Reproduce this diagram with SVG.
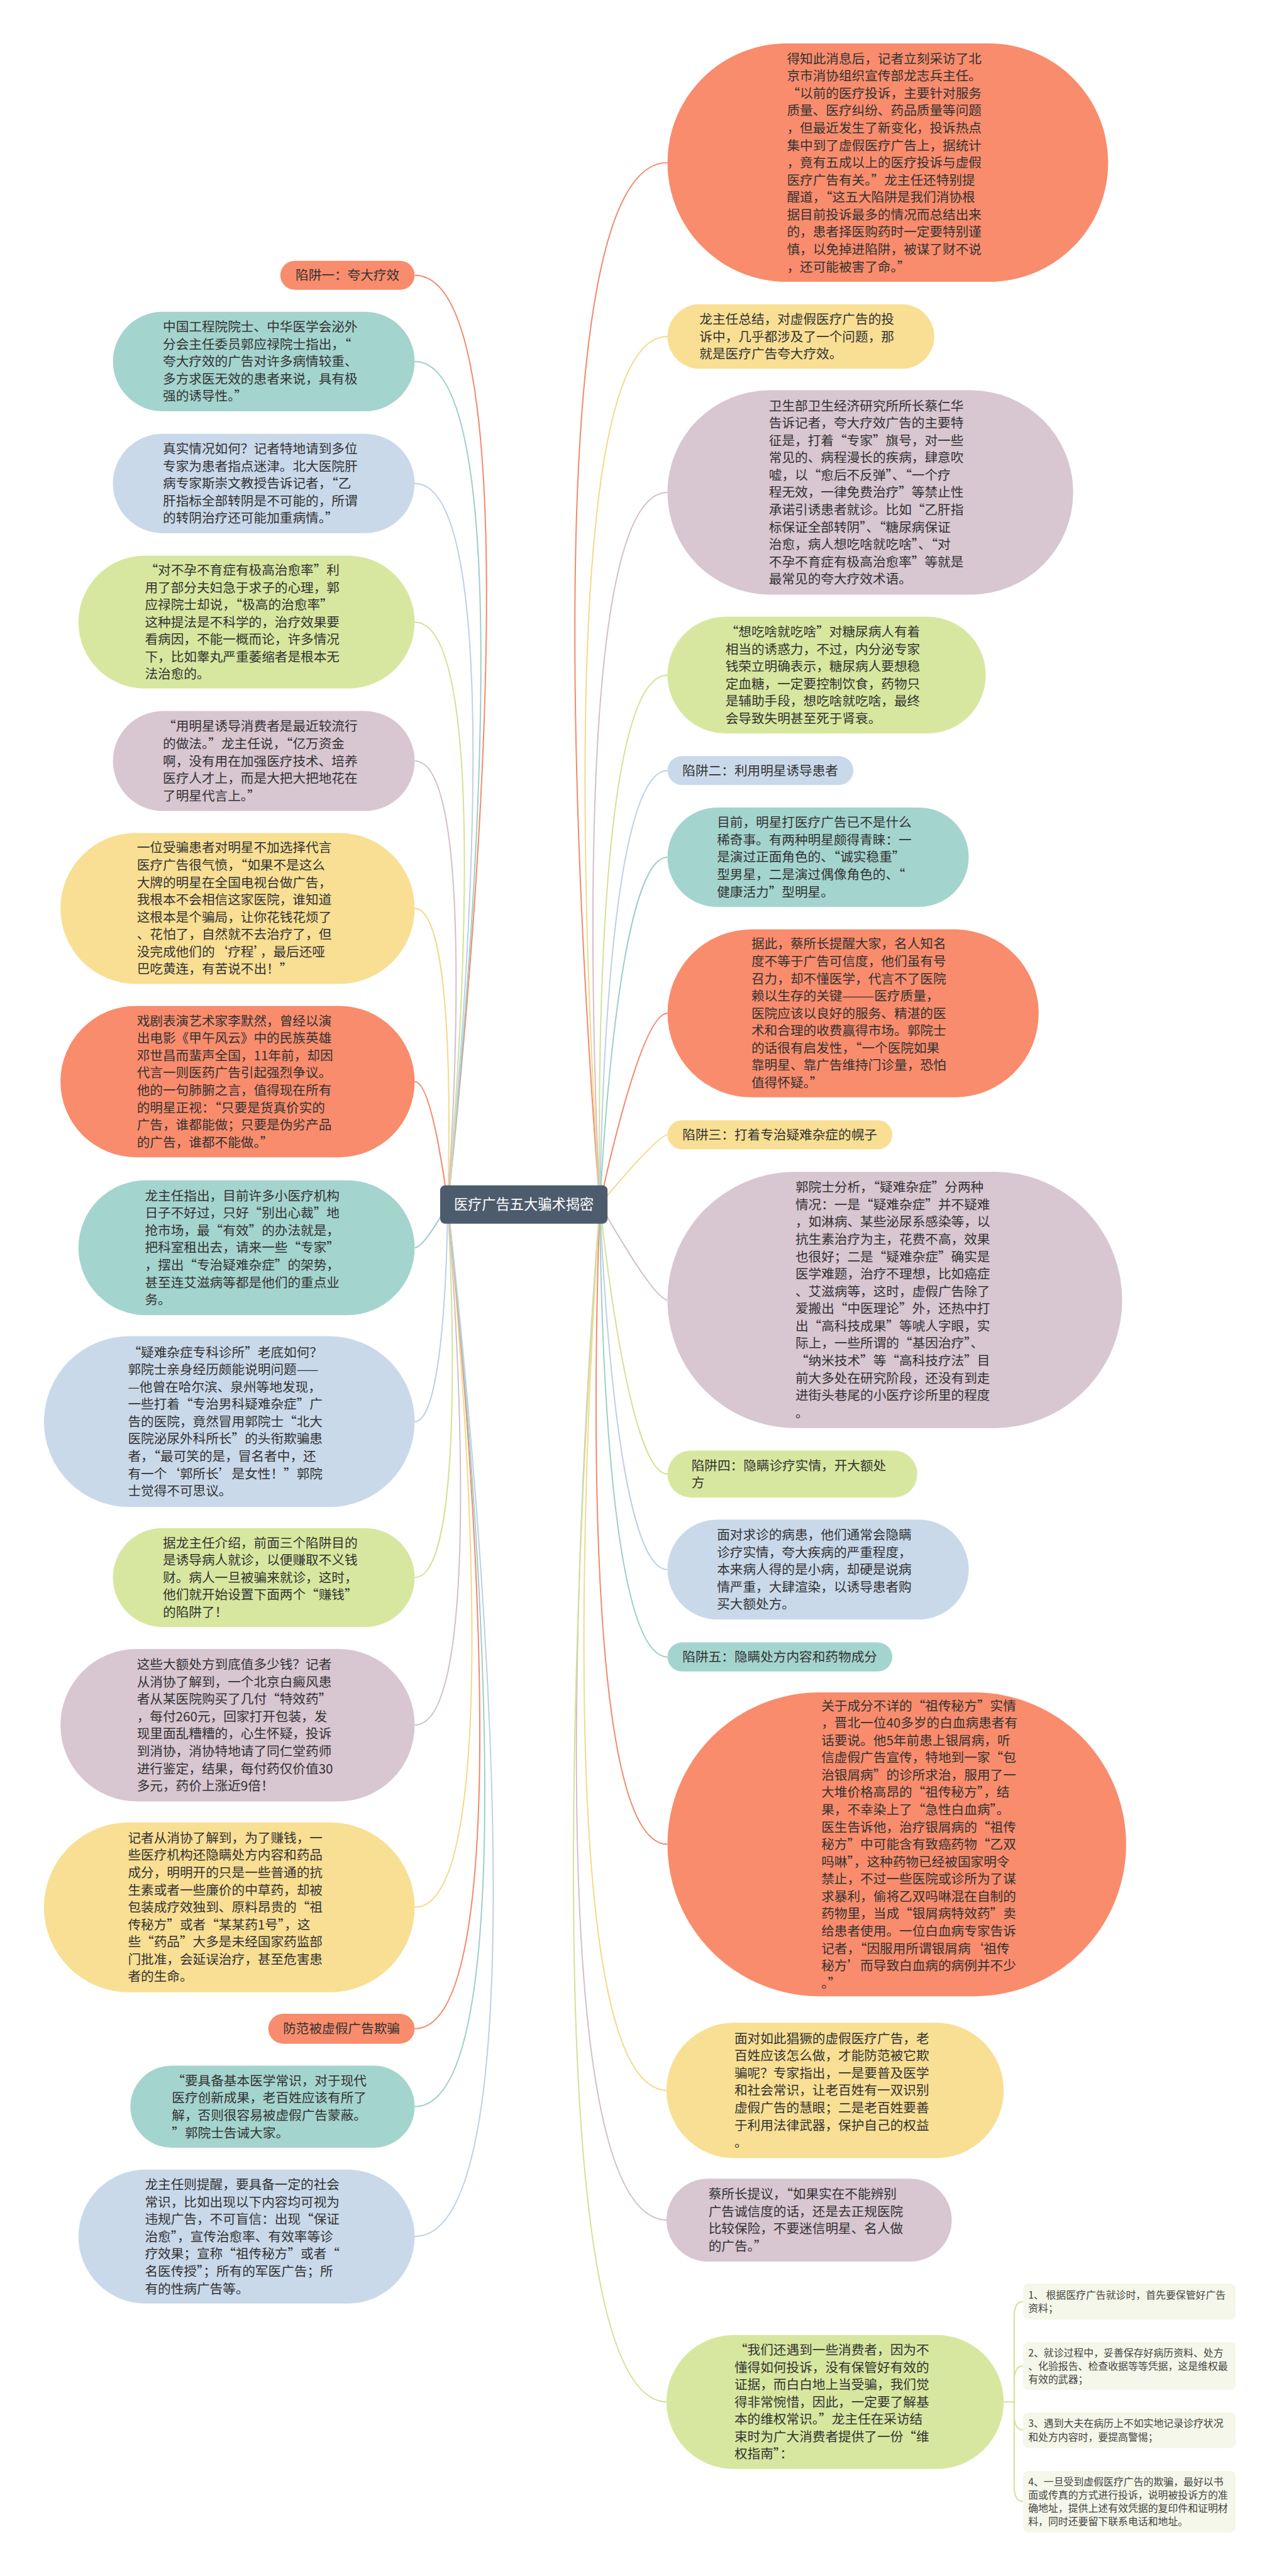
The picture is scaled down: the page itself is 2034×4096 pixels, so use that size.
<svg xmlns="http://www.w3.org/2000/svg" width="2034" height="4096" viewBox="0 0 2034 4096">
<style>
.t{font-family:"Noto Sans CJK SC","Noto Sans",sans-serif;font-size:26px;fill:#333333}
.s{font-family:"Noto Sans CJK SC","Noto Sans",sans-serif;font-size:20px;fill:#444444}
.c{font-family:"Noto Sans CJK SC","Noto Sans",sans-serif;font-size:28px;fill:#ffffff}
.or{fill:#f98c6c}.te{fill:#a4d4ce}.bl{fill:#c9d9ea}.gr{fill:#d8e79f}.mv{fill:#d8c6d1}.ye{fill:#f8df93}.no{fill:#f4f7e9}
.k{fill:none;stroke-width:2.5}
.kor{stroke:#f4886a}.kte{stroke:#9dcfc9}.kbl{stroke:#bcd0e6}.kgr{stroke:#d2e296}.kmv{stroke:#d2bfcb}.kye{stroke:#f3d98a}
</style>
<rect width="2034" height="4096" fill="#ffffff"/>
<g transform="scale(0.794531)">
<g id="connectors">
<path class="k kor" d="M830 551C1109 551 896 2410 896 2410"/>
<path class="k kte" d="M830 723.5C1083 723.5 896 2410 896 2410"/>
<path class="k kbl" d="M830 967.5C1046 967.5 896 2410 896 2410"/>
<path class="k kgr" d="M830 1245C1005 1245 896 2410 896 2410"/>
<path class="k kmv" d="M830 1523C963 1523 896 2410 896 2410"/>
<path class="k kye" d="M830 1818C919 1818 896 2410 896 2410"/>
<path class="k kor" d="M830 2164.5C867 2164.5 896 2410 896 2410"/>
<path class="k kte" d="M830 2497C850 2497 896 2410 896 2410"/>
<path class="k kbl" d="M830 2845C895 2845 896 2410 896 2410"/>
<path class="k kgr" d="M830 3157C942 3157 896 2410 896 2410"/>
<path class="k kmv" d="M830 3452.5C986 3452.5 896 2410 896 2410"/>
<path class="k kye" d="M830 3817C1041 3817 896 2410 896 2410"/>
<path class="k kor" d="M830 4060C1078 4060 896 2410 896 2410"/>
<path class="k kte" d="M830 4216C1101 4216 896 2410 896 2410"/>
<path class="k kbl" d="M830 4476C1140 4476 896 2410 896 2410"/>
<path class="k kor" d="M1336 325.5C1023 325.5 1201 2410 1201 2410"/>
<path class="k kye" d="M1336 673.5C1076 673.5 1201 2410 1201 2410"/>
<path class="k kmv" d="M1336 985.5C1122 985.5 1201 2410 1201 2410"/>
<path class="k kgr" d="M1336 1351C1177 1351 1201 2410 1201 2410"/>
<path class="k kbl" d="M1336 1542C1206 1542 1201 2410 1201 2410"/>
<path class="k kte" d="M1336 1715.5C1232 1715.5 1201 2410 1201 2410"/>
<path class="k kor" d="M1336 2028C1279 2028 1201 2410 1201 2410"/>
<path class="k kye" d="M1336 2271C1315 2271 1201 2410 1201 2410"/>
<path class="k kmv" d="M1336 2601.5C1307 2601.5 1201 2410 1201 2410"/>
<path class="k kgr" d="M1336 2950C1255 2950 1201 2410 1201 2410"/>
<path class="k kbl" d="M1336 3141C1226 3141 1201 2410 1201 2410"/>
<path class="k kte" d="M1336 3316C1200 3316 1201 2410 1201 2410"/>
<path class="k kor" d="M1336 3691C1144 3691 1201 2410 1201 2410"/>
<path class="k kye" d="M1336 4183.5C1070 4183.5 1201 2410 1201 2410"/>
<path class="k kmv" d="M1336 4443C1031 4443 1201 2410 1201 2410"/>
<path class="k kgr" d="M1336 4807C1016 4807 1201 2410 1201 2410"/>
<path class="k kgr" d="M2009 4807H2030"/>
<path class="k kgr" d="M2030 4807V4636Q2030 4606 2048 4606"/>
<path class="k kgr" d="M2030 4807V4765Q2030 4735 2048 4735"/>
<path class="k kgr" d="M2030 4807V4833Q2030 4863 2048 4863"/>
<path class="k kgr" d="M2030 4807V4976Q2030 5006 2048 5006"/>
</g>
<g id="center"><rect x="881" y="2372" width="335" height="77" rx="10" fill="#4d5c6c"/><text class="c" x="1048.5" y="2420.6" text-anchor="middle">医疗广告五大骗术揭密</text></g>
<g id="l0"><rect class="or" x="561" y="522" width="269" height="58" rx="29"/><text class="t" x="695.5" y="560.4" text-anchor="middle">陷阱一：夸大疗效</text></g>
<g id="n1"><rect class="te" x="226" y="624" width="604" height="199" rx="99.5"/><text class="t"><tspan x="326" y="663.5">中国工程院院士、中华医学会泌外</tspan><tspan x="326" y="698.2">分会主任委员郭应禄院士指出，“</tspan><tspan x="326" y="732.9">夸大疗效的广告对许多病情较重、</tspan><tspan x="326" y="767.6">多方求医无效的患者来说，具有极</tspan><tspan x="326" y="802.3">强的诱导性。”</tspan></text></g>
<g id="n2"><rect class="bl" x="226" y="868" width="604" height="199" rx="99.5"/><text class="t"><tspan x="326" y="907.5">真实情况如何？记者特地请到多位</tspan><tspan x="326" y="942.2">专家为患者指点迷津。北大医院肝</tspan><tspan x="326" y="976.9">病专家斯崇文教授告诉记者，“乙</tspan><tspan x="326" y="1011.6">肝指标全部转阴是不可能的，所谓</tspan><tspan x="326" y="1046.3">的转阴治疗还可能加重病情。”</tspan></text></g>
<g id="n3"><rect class="gr" x="157" y="1112" width="673" height="266" rx="133"/><text class="t"><tspan x="290" y="1150.3">“对不孕不育症有极高治愈率”利</tspan><tspan x="290" y="1185">用了部分夫妇急于求子的心理，郭</tspan><tspan x="290" y="1219.7">应禄院士却说，“极高的治愈率”</tspan><tspan x="290" y="1254.4">这种提法是不科学的，治疗效果要</tspan><tspan x="290" y="1289.1">看病因，不能一概而论，许多情况</tspan><tspan x="290" y="1323.8">下，比如睾丸严重萎缩者是根本无</tspan><tspan x="290" y="1358.5">法治愈的。</tspan></text></g>
<g id="n4"><rect class="mv" x="226" y="1423" width="604" height="200" rx="100"/><text class="t"><tspan x="326" y="1463">“用明星诱导消费者是最近较流行</tspan><tspan x="326" y="1497.7">的做法。”龙主任说，“亿万资金</tspan><tspan x="326" y="1532.4">啊，没有用在加强医疗技术、培养</tspan><tspan x="326" y="1567.1">医疗人才上，而是大把大把地花在</tspan><tspan x="326" y="1601.8">了明星代言上。”</tspan></text></g>
<g id="n5"><rect class="ye" x="121" y="1667" width="709" height="302" rx="151"/><text class="t"><tspan x="274" y="1706">一位受骗患者对明星不加选择代言</tspan><tspan x="274" y="1740.7">医疗广告很气愤，“如果不是这么</tspan><tspan x="274" y="1775.4">大牌的明星在全国电视台做广告，</tspan><tspan x="274" y="1810.1">我根本不会相信这家医院，谁知道</tspan><tspan x="274" y="1844.8">这根本是个骗局，让你花钱花烦了</tspan><tspan x="274" y="1879.5">、花怕了，自然就不去治疗了，但</tspan><tspan x="274" y="1914.2">没完成他们的‘疗程’，最后还哑</tspan><tspan x="274" y="1948.9">巴吃黄连，有苦说不出！”</tspan></text></g>
<g id="n6"><rect class="or" x="121" y="2013" width="709" height="303" rx="151.5"/><text class="t"><tspan x="274" y="2052.5">戏剧表演艺术家李默然，曾经以演</tspan><tspan x="274" y="2087.2">出电影《甲午风云》中的民族英雄</tspan><tspan x="274" y="2121.9">邓世昌而蜚声全国，11年前，却因</tspan><tspan x="274" y="2156.6">代言一则医药广告引起强烈争议。</tspan><tspan x="274" y="2191.3">他的一句肺腑之言，值得现在所有</tspan><tspan x="274" y="2226">的明星正视：“只要是货真价实的</tspan><tspan x="274" y="2260.7">广告，谁都能做；只要是伪劣产品</tspan><tspan x="274" y="2295.4">的广告，谁都不能做。”</tspan></text></g>
<g id="n7"><rect class="te" x="157" y="2362" width="673" height="270" rx="135"/><text class="t"><tspan x="290" y="2402.3">龙主任指出，目前许多小医疗机构</tspan><tspan x="290" y="2437">日子不好过，只好“别出心裁”地</tspan><tspan x="290" y="2471.7">抢市场，最“有效”的办法就是，</tspan><tspan x="290" y="2506.4">把科室租出去，请来一些“专家”</tspan><tspan x="290" y="2541.1">，摆出“专治疑难杂症”的架势，</tspan><tspan x="290" y="2575.8">甚至连艾滋病等都是他们的重点业</tspan><tspan x="290" y="2610.5">务。</tspan></text></g>
<g id="n8"><rect class="bl" x="88" y="2674" width="742" height="342" rx="171"/><text class="t"><tspan x="256" y="2715.6">“疑难杂症专科诊所”老底如何？</tspan><tspan x="256" y="2750.3">郭院士亲身经历颇能说明问题——</tspan><tspan x="256" y="2785">—他曾在哈尔滨、泉州等地发现，</tspan><tspan x="256" y="2819.7">一些打着“专治男科疑难杂症”广</tspan><tspan x="256" y="2854.4">告的医院，竟然冒用郭院士“北大</tspan><tspan x="256" y="2889.1">医院泌尿外科所长”的头衔欺骗患</tspan><tspan x="256" y="2923.8">者，“最可笑的是，冒名者中，还</tspan><tspan x="256" y="2958.5">有一个‘郭所长’是女性！”郭院</tspan><tspan x="256" y="2993.2">士觉得不可思议。</tspan></text></g>
<g id="n9"><rect class="gr" x="226" y="3058" width="604" height="198" rx="99"/><text class="t"><tspan x="326" y="3097">据龙主任介绍，前面三个陷阱目的</tspan><tspan x="326" y="3131.7">是诱导病人就诊，以便赚取不义钱</tspan><tspan x="326" y="3166.4">财。病人一旦被骗来就诊，这时，</tspan><tspan x="326" y="3201.1">他们就开始设置下面两个“赚钱”</tspan><tspan x="326" y="3235.8">的陷阱了！</tspan></text></g>
<g id="n10"><rect class="mv" x="121" y="3300" width="709" height="305" rx="152.5"/><text class="t"><tspan x="274" y="3340.5">这些大额处方到底值多少钱？记者</tspan><tspan x="274" y="3375.2">从消协了解到，一个北京白癜风患</tspan><tspan x="274" y="3409.9">者从某医院购买了几付“特效药”</tspan><tspan x="274" y="3444.6">，每付260元，回家打开包装，发</tspan><tspan x="274" y="3479.3">现里面乱糟糟的，心生怀疑，投诉</tspan><tspan x="274" y="3514">到消协，消协特地请了同仁堂药师</tspan><tspan x="274" y="3548.7">进行鉴定，结果，每付药仅价值30</tspan><tspan x="274" y="3583.4">多元，药价上涨近9倍！</tspan></text></g>
<g id="n11"><rect class="ye" x="88" y="3647" width="742" height="340" rx="170"/><text class="t"><tspan x="256" y="3687.6">记者从消协了解到，为了赚钱，一</tspan><tspan x="256" y="3722.3">些医疗机构还隐瞒处方内容和药品</tspan><tspan x="256" y="3757">成分，明明开的只是一些普通的抗</tspan><tspan x="256" y="3791.7">生素或者一些廉价的中草药，却被</tspan><tspan x="256" y="3826.4">包装成疗效独到、原料昂贵的“祖</tspan><tspan x="256" y="3861.1">传秘方”或者“某某药1号”，这</tspan><tspan x="256" y="3895.8">些“药品”大多是未经国家药监部</tspan><tspan x="256" y="3930.5">门批准，会延误治疗，甚至危害患</tspan><tspan x="256" y="3965.2">者的生命。</tspan></text></g>
<g id="l6"><rect class="or" x="537" y="4030" width="293" height="60" rx="30"/><text class="t" x="683.5" y="4069.4" text-anchor="middle">防范被虚假广告欺骗</text></g>
<g id="n12"><rect class="te" x="261" y="4134" width="569" height="164" rx="82"/><text class="t"><tspan x="344" y="4173.4">“要具备基本医学常识，对于现代</tspan><tspan x="344" y="4208.1">医疗创新成果，老百姓应该有所了</tspan><tspan x="344" y="4242.8">解，否则很容易被虚假广告蒙蔽。</tspan><tspan x="344" y="4277.5">”郭院士告诫大家。</tspan></text></g>
<g id="n13"><rect class="bl" x="157" y="4342" width="673" height="268" rx="134"/><text class="t"><tspan x="290" y="4381.3">龙主任则提醒，要具备一定的社会</tspan><tspan x="290" y="4416">常识，比如出现以下内容均可视为</tspan><tspan x="290" y="4450.7">违规广告，不可盲信：出现“保证</tspan><tspan x="290" y="4485.4">治愈”，宣传治愈率、有效率等诊</tspan><tspan x="290" y="4520.1">疗效果；宣称“祖传秘方”或者“</tspan><tspan x="290" y="4554.8">名医传授”；所有的军医广告；所</tspan><tspan x="290" y="4589.5">有的性病广告等。</tspan></text></g>
<g id="r1"><rect class="or" x="1336" y="87" width="882" height="477" rx="238.5"/><text class="t"><tspan x="1575" y="126.7">得知此消息后，记者立刻采访了北</tspan><tspan x="1575" y="161.4">京市消协组织宣传部龙志兵主任。</tspan><tspan x="1575" y="196.1">“以前的医疗投诉，主要针对服务</tspan><tspan x="1575" y="230.8">质量、医疗纠纷、药品质量等问题</tspan><tspan x="1575" y="265.5">，但最近发生了新变化，投诉热点</tspan><tspan x="1575" y="300.2">集中到了虚假医疗广告上，据统计</tspan><tspan x="1575" y="334.9">，竟有五成以上的医疗投诉与虚假</tspan><tspan x="1575" y="369.6">医疗广告有关。”龙主任还特别提</tspan><tspan x="1575" y="404.3">醒道，“这五大陷阱是我们消协根</tspan><tspan x="1575" y="439">据目前投诉最多的情况而总结出来</tspan><tspan x="1575" y="473.7">的，患者择医购药时一定要特别谨</tspan><tspan x="1575" y="508.4">慎，以免掉进陷阱，被谋了财不说</tspan><tspan x="1575" y="543.1">，还可能被害了命。”</tspan></text></g>
<g id="r2"><rect class="ye" x="1336" y="609" width="534" height="129" rx="64.5"/><text class="t"><tspan x="1400" y="648.2">龙主任总结，对虚假医疗广告的投</tspan><tspan x="1400" y="682.9">诉中，几乎都涉及了一个问题，那</tspan><tspan x="1400" y="717.6">就是医疗广告夸大疗效。</tspan></text></g>
<g id="r3"><rect class="mv" x="1336" y="781" width="812" height="409" rx="204.5"/><text class="t"><tspan x="1539" y="821.4">卫生部卫生经济研究所所长蔡仁华</tspan><tspan x="1539" y="856.1">告诉记者，夸大疗效广告的主要特</tspan><tspan x="1539" y="890.8">征是，打着“专家”旗号，对一些</tspan><tspan x="1539" y="925.5">常见的、病程漫长的疾病，肆意吹</tspan><tspan x="1539" y="960.2">嘘，以“愈后不反弹”、“一个疗</tspan><tspan x="1539" y="994.9">程无效，一律免费治疗”等禁止性</tspan><tspan x="1539" y="1029.6">承诺引诱患者就诊。比如“乙肝指</tspan><tspan x="1539" y="1064.3">标保证全部转阴”、“糖尿病保证</tspan><tspan x="1539" y="1099">治愈，病人想吃啥就吃啥”、“对</tspan><tspan x="1539" y="1133.7">不孕不育症有极高治愈率”等就是</tspan><tspan x="1539" y="1168.4">最常见的夸大疗效术语。</tspan></text></g>
<g id="r4"><rect class="gr" x="1336" y="1234" width="637" height="234" rx="117"/><text class="t"><tspan x="1452" y="1273.7">“想吃啥就吃啥”对糖尿病人有着</tspan><tspan x="1452" y="1308.4">相当的诱惑力，不过，内分泌专家</tspan><tspan x="1452" y="1343.1">钱荣立明确表示，糖尿病人要想稳</tspan><tspan x="1452" y="1377.8">定血糖，一定要控制饮食，药物只</tspan><tspan x="1452" y="1412.5">是辅助手段，想吃啥就吃啥，最终</tspan><tspan x="1452" y="1447.2">会导致失明甚至死于肾衰。</tspan></text></g>
<g id="rl2"><rect class="bl" x="1336" y="1513" width="372" height="58" rx="29"/><text class="t" x="1366" y="1551.4">陷阱二：利用明星诱导患者</text></g>
<g id="r5"><rect class="te" x="1336" y="1616" width="603" height="199" rx="99.5"/><text class="t"><tspan x="1435" y="1655.5">目前，明星打医疗广告已不是什么</tspan><tspan x="1435" y="1690.2">稀奇事。有两种明星颇得青睐：一</tspan><tspan x="1435" y="1724.9">是演过正面角色的、“诚实稳重”</tspan><tspan x="1435" y="1759.6">型男星，二是演过偶像角色的、“</tspan><tspan x="1435" y="1794.3">健康活力”型明星。</tspan></text></g>
<g id="r6"><rect class="or" x="1336" y="1860" width="743" height="336" rx="168"/><text class="t"><tspan x="1504" y="1898.6">据此，蔡所长提醒大家，名人知名</tspan><tspan x="1504" y="1933.3">度不等于广告可信度，他们虽有号</tspan><tspan x="1504" y="1968">召力，却不懂医学，代言不了医院</tspan><tspan x="1504" y="2002.7">赖以生存的关键———医疗质量，</tspan><tspan x="1504" y="2037.4">医院应该以良好的服务、精湛的医</tspan><tspan x="1504" y="2072.1">术和合理的收费赢得市场。郭院士</tspan><tspan x="1504" y="2106.8">的话很有启发性，“一个医院如果</tspan><tspan x="1504" y="2141.5">靠明星、靠广告维持门诊量，恐怕</tspan><tspan x="1504" y="2176.2">值得怀疑。”</tspan></text></g>
<g id="rl3"><rect class="ye" x="1336" y="2242" width="450" height="58" rx="29"/><text class="t" x="1366" y="2280.4">陷阱三：打着专治疑难杂症的幌子</text></g>
<g id="r7"><rect class="mv" x="1336" y="2345" width="910" height="513" rx="256.5"/><text class="t"><tspan x="1592" y="2385.4">郭院士分析，“疑难杂症”分两种</tspan><tspan x="1592" y="2420.1">情况：一是“疑难杂症”并不疑难</tspan><tspan x="1592" y="2454.8">，如淋病、某些泌尿系感染等，以</tspan><tspan x="1592" y="2489.5">抗生素治疗为主，花费不高，效果</tspan><tspan x="1592" y="2524.2">也很好；二是“疑难杂症”确实是</tspan><tspan x="1592" y="2558.9">医学难题，治疗不理想，比如癌症</tspan><tspan x="1592" y="2593.6">、艾滋病等，这时，虚假广告除了</tspan><tspan x="1592" y="2628.3">爱搬出“中医理论”外，还热中打</tspan><tspan x="1592" y="2663">出“高科技成果”等唬人字眼，实</tspan><tspan x="1592" y="2697.7">际上，一些所谓的“基因治疗”、</tspan><tspan x="1592" y="2732.4">“纳米技术”等“高科技疗法”目</tspan><tspan x="1592" y="2767.1">前大多处在研究阶段，还没有到走</tspan><tspan x="1592" y="2801.8">进街头巷尾的小医疗诊所里的程度</tspan><tspan x="1592" y="2836.5">。</tspan></text></g>
<g id="rl4"><rect class="gr" x="1336" y="2903" width="500" height="94" rx="47"/><text class="t"><tspan x="1384" y="2942">陷阱四：隐瞒诊疗实情，开大额处</tspan><tspan x="1384" y="2976.7">方</tspan></text></g>
<g id="r8"><rect class="bl" x="1336" y="3041" width="603" height="200" rx="100"/><text class="t"><tspan x="1435" y="3081">面对求诊的病患，他们通常会隐瞒</tspan><tspan x="1435" y="3115.7">诊疗实情，夸大疾病的严重程度，</tspan><tspan x="1435" y="3150.4">本来病人得的是小病，却硬是说病</tspan><tspan x="1435" y="3185.1">情严重，大肆渲染，以诱导患者购</tspan><tspan x="1435" y="3219.8">买大额处方。</tspan></text></g>
<g id="rl5"><rect class="te" x="1336" y="3287" width="450" height="58" rx="29"/><text class="t" x="1366" y="3325.4">陷阱五：隐瞒处方内容和药物成分</text></g>
<g id="r9"><rect class="or" x="1336" y="3387" width="918" height="608" rx="304"/><text class="t"><tspan x="1644" y="3422.8">关于成分不详的“祖传秘方”实情</tspan><tspan x="1644" y="3457.5">，晋北一位40多岁的白血病患者有</tspan><tspan x="1644" y="3492.2">话要说。他5年前患上银屑病，听</tspan><tspan x="1644" y="3526.9">信虚假广告宣传，特地到一家“包</tspan><tspan x="1644" y="3561.6">治银屑病”的诊所求治，服用了一</tspan><tspan x="1644" y="3596.3">大堆价格高昂的“祖传秘方”，结</tspan><tspan x="1644" y="3631">果，不幸染上了“急性白血病”。</tspan><tspan x="1644" y="3665.7">医生告诉他，治疗银屑病的“祖传</tspan><tspan x="1644" y="3700.4">秘方”中可能含有致癌药物“乙双</tspan><tspan x="1644" y="3735.1">吗啉”，这种药物已经被国家明令</tspan><tspan x="1644" y="3769.8">禁止，不过一些医院或诊所为了谋</tspan><tspan x="1644" y="3804.5">求暴利，偷将乙双吗啉混在自制的</tspan><tspan x="1644" y="3839.2">药物里，当成“银屑病特效药”卖</tspan><tspan x="1644" y="3873.9">给患者使用。一位白血病专家告诉</tspan><tspan x="1644" y="3908.6">记者，“因服用所谓银屑病‘祖传</tspan><tspan x="1644" y="3943.3">秘方’而导致白血病的病例并不少</tspan><tspan x="1644" y="3978">。”</tspan></text></g>
<g id="r10"><rect class="ye" x="1334" y="4048" width="675" height="271" rx="135.5"/><text class="t"><tspan x="1470" y="4088.8">面对如此猖獗的虚假医疗广告，老</tspan><tspan x="1470" y="4123.5">百姓应该怎么做，才能防范被它欺</tspan><tspan x="1470" y="4158.2">骗呢？专家指出，一是要普及医学</tspan><tspan x="1470" y="4192.9">和社会常识，让老百姓有一双识别</tspan><tspan x="1470" y="4227.6">虚假广告的慧眼；二是老百姓要善</tspan><tspan x="1470" y="4262.3">于利用法律武器，保护自己的权益</tspan><tspan x="1470" y="4297">。</tspan></text></g>
<g id="r11"><rect class="mv" x="1334" y="4360" width="571" height="166" rx="83"/><text class="t"><tspan x="1418" y="4400.4">蔡所长提议，“如果实在不能辨别</tspan><tspan x="1418" y="4435.1">广告诚信度的话，还是去正规医院</tspan><tspan x="1418" y="4469.8">比较保险，不要迷信明星、名人做</tspan><tspan x="1418" y="4504.5">的广告。”</tspan></text></g>
<g id="r12"><rect class="gr" x="1334" y="4673" width="675" height="268" rx="134"/><text class="t"><tspan x="1470" y="4712.3">“我们还遇到一些消费者，因为不</tspan><tspan x="1470" y="4747">懂得如何投诉，没有保管好有效的</tspan><tspan x="1470" y="4781.7">证据，而白白地上当受骗，我们觉</tspan><tspan x="1470" y="4816.4">得非常惋惜，因此，一定要了解基</tspan><tspan x="1470" y="4851.1">本的维权常识。”龙主任在采访结</tspan><tspan x="1470" y="4885.8">束时为广大消费者提供了一份“维</tspan><tspan x="1470" y="4920.5">权指南”：</tspan></text></g>
<g id="note1"><rect class="no" x="2048" y="4570" width="425" height="72" rx="10"/><text class="s"><tspan x="2058" y="4599.9">1、 根据医疗广告就诊时，首先要保管好广告</tspan><tspan x="2058" y="4626.6">资料；</tspan></text></g>
<g id="note2"><rect class="no" x="2048" y="4687" width="425" height="96" rx="10"/><text class="s"><tspan x="2058" y="4715.5">2、就诊过程中，妥善保存好病历资料、处方</tspan><tspan x="2058" y="4742.2">、化验报告、检查收据等等凭据，这是维权最</tspan><tspan x="2058" y="4768.9">有效的武器；</tspan></text></g>
<g id="note3"><rect class="no" x="2048" y="4828" width="425" height="71" rx="10"/><text class="s"><tspan x="2058" y="4857.4">3、遇到大夫在病历上不如实地记录诊疗状况</tspan><tspan x="2058" y="4884.1">和处方内容时，要提高警惕；</tspan></text></g>
<g id="note4"><rect class="no" x="2048" y="4945" width="425" height="123" rx="10"/><text class="s"><tspan x="2058" y="4973.7">4、一旦受到虚假医疗广告的欺骗，最好以书</tspan><tspan x="2058" y="5000.4">面或传真的方式进行投诉，说明被投诉方的准</tspan><tspan x="2058" y="5027.1">确地址，提供上述有效凭据的复印件和证明材</tspan><tspan x="2058" y="5053.8">料，同时还要留下联系电话和地址。</tspan></text></g>
</g>
</svg>
